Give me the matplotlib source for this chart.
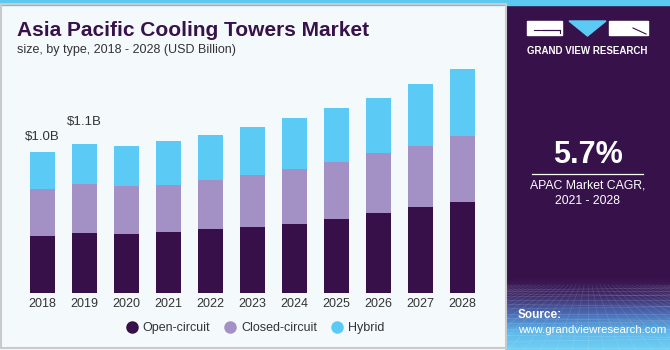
import numpy as np
import matplotlib.pyplot as plt
from matplotlib.lines import Line2D
from matplotlib.patches import Rectangle, Polygon

plt.rcParams['font.family'] = ['Liberation Sans', 'DejaVu Sans']

years = ['2018', '2019', '2020', '2021', '2022', '2023', '2024', '2025', '2026', '2027', '2028']
open_circuit = [0.40, 0.425, 0.415, 0.43, 0.45, 0.47, 0.49, 0.525, 0.565, 0.61, 0.645]
closed_circuit = [0.335, 0.345, 0.345, 0.335, 0.35, 0.365, 0.39, 0.405, 0.425, 0.43, 0.47]
hybrid = [0.265, 0.285, 0.28, 0.31, 0.32, 0.34, 0.36, 0.38, 0.395, 0.44, 0.475]
series_names = ['Open-circuit', 'Closed-circuit', 'Hybrid']
value_labels = {0: '\\$1.0B', 1: '\\$1.1B'}
cagr = '5.7%'

c_open = '#371049'
c_closed = '#A391C5'
c_hybrid = '#5BCBF5'
bg_left = '#F4F9FC'
bg_right = '#37124A'

W, H = 670, 350
fig = plt.figure(figsize=(W / 100, H / 100), dpi=100)

# background drawing in pixel coords
bg = fig.add_axes([0, 0, 1, 1], zorder=-10)
bg.set_xlim(0, W)
bg.set_ylim(H, 0)
bg.axis('off')
bg.add_patch(Rectangle((0, 0), W, H, color=bg_left))
bg.add_patch(Rectangle((506, 0), W - 506, H, color=bg_right))

# bottom gradient on the right panel (dark at top, light blue at bottom)
grad = np.linspace(0, 1, 300)[:, None]
cmap = plt.matplotlib.colors.LinearSegmentedColormap.from_list(
    'g', ['#38124A', '#3F2C6A', '#4A6CB6', '#5FB8EA', '#6FD0F5'])
bg.imshow(grad, cmap=cmap, extent=(506, W, 350, 278), origin='upper', aspect='auto',
          interpolation='bilinear', zorder=1)
# faint perspective grid
for k in range(14):
    yy = 290 + (k ** 1.45) * 1.4
    bg.plot([506, W], [yy, yy + (k % 3 - 1) * 2], color='white', alpha=0.15, lw=0.5, zorder=2)
for k in range(-20, 30):
    x0 = 588 + k * 4
    x1 = 588 + k * 16
    bg.plot([x0, x1], [285, 350], color='white', alpha=0.12, lw=0.5, zorder=2)
bg.add_patch(Rectangle((0, 0), W, 4.5, color='#5BC8F0', zorder=3))
bg.add_patch(Rectangle((1, 4), 505, 344, fill=False, ec='#C9CACB', lw=1.5, zorder=3))

# logo
bg.add_patch(Rectangle((527, 21), 35, 14, color='white', zorder=3))
bg.add_patch(Polygon([[569, 21], [606, 21], [587.5, 36]], color='#5BCBF5', zorder=3))
bg.add_patch(Rectangle((609, 21), 39, 14, color='white', zorder=3))
bg.plot([543, 560, 560], [29.5, 29.5, 33], color='#37124A', lw=0.8, zorder=4)
bg.plot([534, 560], [29.5, 29.5], color='#37124A', lw=0.8, zorder=4)
bg.plot([633, 646], [28, 34], color='#37124A', lw=0.8, zorder=4)
bg.text(587.5, 51.5, 'GRAND VIEW RESEARCH', color='white', fontsize=7, fontweight='bold',
        ha='center', va='center', zorder=4)

# CAGR panel
bg.text(587.5, 155, cagr, color='white', fontsize=22, fontweight='bold', ha='center', va='center', zorder=4)
bg.plot([532, 643], [173.5, 173.5], color='white', lw=0.9, zorder=4)
bg.text(587.5, 185, 'APAC Market CAGR,', color='white', fontsize=8.8, ha='center', va='center', zorder=4)
bg.text(587.5, 201, '2021 - 2028', color='white', fontsize=8.8, ha='center', va='center', zorder=4)
bg.text(518, 315, 'Source:', color='white', fontsize=8.5, fontweight='bold', ha='left', va='center', zorder=4)
bg.text(518, 330, 'www.grandviewresearch.com', color='white', fontsize=8.2, ha='left', va='center', zorder=4)

# titles
bg.text(17, 31, 'Asia Pacific Cooling Towers Market', color='#37124A', fontsize=15, fontweight='bold',
        ha='left', va='center', zorder=4)
bg.text(17, 50, 'size, by type, 2018 - 2028 (USD Billion)', color='#333333', fontsize=9,
        ha='left', va='center', zorder=4)

# bar chart
ax = fig.add_axes([21.5 / W, 57.3 / H, 462 / W, 239.2 / H])
ax.set_facecolor('none')
x = np.arange(len(years))
open_a = np.array(open_circuit)
closed_a = np.array(closed_circuit)
hybrid_a = np.array(hybrid)
ax.bar(x, open_a, width=0.6, color=c_open)
ax.bar(x, closed_a, width=0.6, bottom=open_a, color=c_closed)
ax.bar(x, hybrid_a, width=0.6, bottom=open_a + closed_a, color=c_hybrid)
total = open_a + closed_a + hybrid_a
offsets = {0: 15, 1: 22}
for i, lab in value_labels.items():
    ax.annotate(lab, (x[i], total[i]), xytext=(0, offsets[i]), textcoords='offset pixels',
                ha='center', va='center', fontsize=9.5, color='#333333')
ax.set_xlim(-0.5, len(years) - 0.5)
ax.set_ylim(0, 1.7)
ax.set_xticks(x)
ax.set_xticklabels(years, fontsize=9, color='#333333')
ax.tick_params(axis='x', length=0, pad=4)
ax.set_yticks([])
for s in ax.spines.values():
    s.set_visible(False)

handles = [Line2D([], [], marker='o', ls='', ms=8, color=c) for c in (c_open, c_closed, c_hybrid)]
ax.legend(handles, series_names, loc='center', bbox_to_anchor=(234 / 462, -35.5 / 239.2), ncol=3,
          frameon=False, fontsize=9, handlelength=0.8, handletextpad=0.45, columnspacing=1.2,
          labelcolor='#333333')

fig.savefig('out.png', dpi=100)
